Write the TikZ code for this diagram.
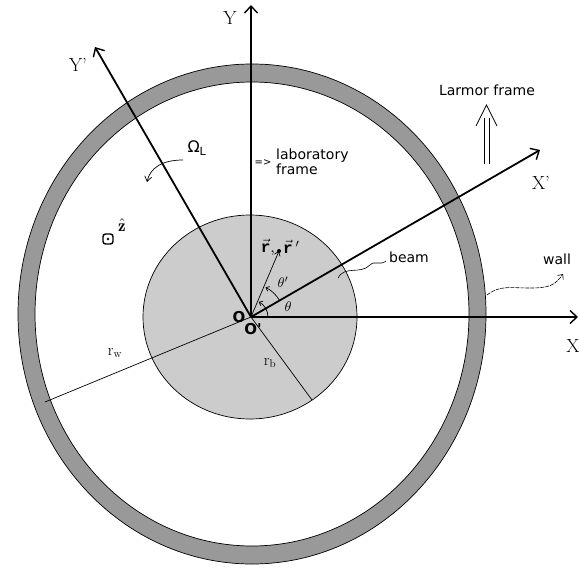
\documentclass[tikz,border=0pt]{standalone}
\usepackage{fontspec}
\setsansfont{DejaVu Sans}
\newfontfamily\cour{Liberation Mono}
\usetikzlibrary{arrows.meta}
\definecolor{ringgray}{HTML}{999999}
\definecolor{beamgray}{HTML}{CCCCCC}
\tikzset{
  axis/.style={line width=1.8pt, -{Straight Barb[length=7pt,width=13pt,line width=1.4pt]}},
  thinline/.style={line width=0.7pt},
  sflabel/.style={font=\sffamily\fontsize{14}{15.5}\selectfont, inner sep=0pt, align=left},
  axlabel/.style={font=\fontsize{19}{20}\selectfont, inner sep=0pt},
  wavy/.style={line width=0.6pt},
}
\begin{document}
\begin{tikzpicture}[x=1pt,y=-1pt]
\useasboundingbox (0,0) rectangle (580,569);
% wall ring
\fill[ringgray, even odd rule] (252,314) ellipse [x radius=234pt, y radius=250pt]
      (252,314) ellipse [x radius=217pt, y radius=232pt];
\draw[thinline] (252,314) ellipse [x radius=234pt, y radius=250pt];
\draw[thinline] (252,314) ellipse [x radius=217pt, y radius=232pt];
% beam
\filldraw[fill=beamgray, draw=black, thinline] (250,317) ellipse [x radius=107pt, y radius=102pt];
% coordinates
\coordinate (O) at (251,317);
\coordinate (Xtip) at (578,317);
\coordinate (Ytip) at (251,5);
\coordinate (Xptip) at (540,150);
\coordinate (Yptip) at (95,47);
\coordinate (rw) at (45,402);
\coordinate (rb) at (312,400);
\coordinate (rpt) at (279,251);
% radii
\draw[thinline] (O) -- (rw);
\draw[thinline] (O) -- (rb);
% axes
\draw[axis] (O) -- (Xtip);
\draw[axis] (O) -- (Ytip);
\draw[axis] (O) -- (Xptip);
\draw[axis] (O) -- (Yptip);
\node[axlabel] (Xl) at (573,346) {X};
\node[axlabel] (Yl) at (230,18) {Y};
\node[axlabel] (Xpl) at (541,183) {X'};
\node[axlabel] (Ypl) at (78,65) {Y'};
% r vector
\draw[thinline, -{Straight Barb[length=4pt,width=6pt]}] (O) -- (rpt);
\fill (rpt) circle (2pt);
\node[inner sep=0pt, anchor=east] (rl1) at (275,247) {\scalebox{1.6}{$\vec{\hbox{\cour\bfseries r}}$,}};
\node[inner sep=0pt, anchor=west] (rl2) at (283,247) {\scalebox{1.6}{$\vec{\hbox{\cour\bfseries r}}\,'$}};
% angle arcs
\draw[thinline, -{Straight Barb[length=3pt,width=5pt]}] ([shift={(17pt,0pt)}]O) arc[start angle=0, end angle=63, radius=17pt];
\draw[thinline, -{Straight Barb[length=3pt,width=5pt]}] ([shift={(30:33pt)}]O) arc[start angle=30, end angle=64, radius=33pt];
\node[inner sep=0pt] (th) at (288,307) {\scalebox{1.4}{$\theta$}};
\node[inner sep=0pt] (thp) at (283,282) {\scalebox{1.4}{$\theta'$}};
% origin labels
\node[inner sep=0pt, font=\sffamily\bfseries\fontsize{15}{15}\selectfont] (Ol) at (239,317) {O};
\node[inner sep=0pt, font=\sffamily\bfseries\fontsize{15}{15}\selectfont] (Opl) at (253,329) {O\textquotesingle};
% radius labels
\node[inner sep=0pt, font=\fontsize{16}{16}\selectfont] (rwl) at (115,353) {r\textsubscript{w}};
\node[inner sep=0pt, font=\fontsize{16}{16}\selectfont] (rbl) at (270,363) {r\textsubscript{b}};
% z hat
\coordinate (zc) at (108,239);
\draw[line width=1.4pt, rounded corners=2.5pt] ([shift={(-5pt,-5pt)}]zc) rectangle ([shift={(5pt,5pt)}]zc);
\fill (zc) circle (1.3pt);
\node[inner sep=0pt] (zl) at (122,225) {\scalebox{1.7}{$\hat{\mathbf{z}}$}};
% Omega_L
\node[inner sep=0pt, font=\sffamily\fontsize{16}{16}\selectfont] (Om) at (197,148) {Ω\textsubscript{L}};
\coordinate (om1) at (183,160);
\coordinate (om2) at (147,182);
\draw[thinline, -{Straight Barb[length=5pt,width=7pt]}] (om1) .. controls (162,160) and (150,168) .. (om2);
% laboratory frame
\node[sflabel, font=\sffamily\fontsize{10}{10}\selectfont] (imp) at (263,163) {=>};
\node[sflabel, anchor=west] (lab) at (276,162) {laboratory\\frame};
% Larmor frame
\node[sflabel] (lar) at (487,90) {Larmor frame};
\coordinate (laL1) at (484,164);
\coordinate (laL2) at (484,118);
\coordinate (laR1) at (489,164);
\coordinate (laR2) at (489,118);
\coordinate (latip) at (486.5,105);
\coordinate (laB1) at (476,126);
\coordinate (laB2) at (497,126);
\draw[thinline] (laL1) -- (laL2);
\draw[thinline] (laR1) -- (laR2);
\draw[thinline] (laB1) -- (latip) -- (laB2);
% beam label
\node[sflabel] (beam) at (409,257) {beam};
\coordinate (b1) at (338,278);
\coordinate (b2) at (386,261);
\draw[wavy] (b1) .. controls (345,265) and (360,275) .. (370,265) .. controls (375,260) and (380,266) .. (b2);
% wall label
\node[sflabel] (wall) at (557,259) {wall};
\coordinate (w1) at (487,295);
\coordinate (w2) at (563,274);
\draw[wavy, dashed, dash pattern=on 4pt off 1pt, -{Straight Barb[length=4pt,width=7pt]}] (w1) .. controls (500,285) and (510,288) .. (530,288) .. controls (550,288) and (555,285) .. (w2);
\end{tikzpicture}
\end{document}
